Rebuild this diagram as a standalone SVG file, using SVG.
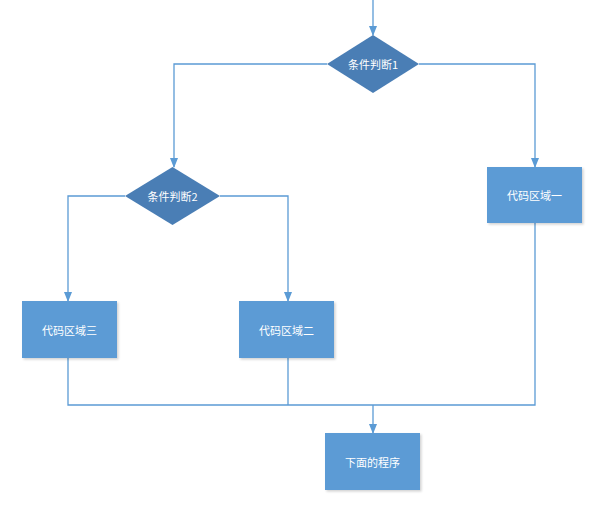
<svg xmlns="http://www.w3.org/2000/svg" width="608" height="513" viewBox="0 0 608 513">
<defs>
<marker id="arr" markerWidth="10" markerHeight="8" refX="9" refY="4" orient="auto" markerUnits="userSpaceOnUse">
<path d="M0,0 L10,4 L0,8 Z" fill="#5B9BD5"/>
</marker>
<filter id="sh" x="-10%" y="-10%" width="130%" height="130%">
<feDropShadow dx="1.5" dy="1.5" stdDeviation="1.2" flood-color="#000" flood-opacity="0.18"/>
</filter>
</defs>
<style>
.box{fill:#5B9BD5;filter:url(#sh)}
.dia{fill:#4A7EB5}
.t{fill:#fff;font-family:"Noto Sans CJK SC","Liberation Sans",sans-serif;font-size:11px;text-anchor:middle;dominant-baseline:central}
.c{fill:none;stroke:#5B9BD5;stroke-width:1.3}
</style>
<rect width="608" height="513" fill="#fff"/>
<g id="connectors">
<path class="c" d="M373,0 V35" marker-end="url(#arr)"/>
<path class="c" d="M327,64 H174 V167" marker-end="url(#arr)"/>
<path class="c" d="M419,64 H535 V167" marker-end="url(#arr)"/>
<path class="c" d="M125,196 H68 V301" marker-end="url(#arr)"/>
<path class="c" d="M220,196 H288 V301" marker-end="url(#arr)"/>
<path class="c" d="M68,358 V405 H535 V223"/>
<path class="c" d="M288,358 V405"/>
<path class="c" d="M373,405 V433" stroke-width="2.5" marker-end="url(#arr)"/>
</g>
<g id="cond1">
<polygon class="dia" points="373,35 419,64 373,93 327,64"/>
<text class="t" x="373" y="64">条件判断1</text>
</g>
<g id="cond2">
<polygon class="dia" points="172.5,167 220,196 172.5,225 125,196"/>
<text class="t" x="172.5" y="196">条件判断2</text>
</g>
<g id="code1">
<rect class="box" x="487" y="167" width="95" height="56"/>
<text class="t" x="534.5" y="195">代码区域一</text>
</g>
<g id="code3">
<rect class="box" x="22" y="301" width="95" height="57"/>
<text class="t" x="69.5" y="329.5">代码区域三</text>
</g>
<g id="code2">
<rect class="box" x="239" y="301" width="95" height="57"/>
<text class="t" x="286.5" y="329.5">代码区域二</text>
</g>
<g id="next">
<rect class="box" x="325" y="433" width="95" height="57"/>
<text class="t" x="372.5" y="461.5">下面的程序</text>
</g>
</svg>
